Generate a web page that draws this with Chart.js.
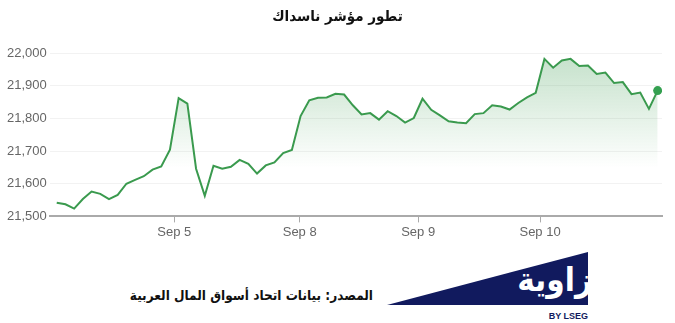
<!DOCTYPE html>
<html>
<head>
<meta charset="utf-8">
<script src="https://cdn.jsdelivr.net/npm/chart.js@4/dist/chart.umd.min.js"></script>
<style>
  body { margin: 0; background: #fff; }
  #wrap { position: relative; width: 675px; height: 323px; overflow: hidden; }
  #title { position: absolute; left: 0; top: 7px; width: 675px; text-align: center;
    font: bold 15px 'DejaVu Sans Condensed', 'DejaVu Sans', sans-serif; color: #111; direction: rtl; }
  #chartBox { position: absolute; left: 0; top: 0; width: 675px; height: 245px; }
  #source { position: absolute; left: 100px; top: 287px; width: 273px; text-align: right;
    font: bold 13.5px 'DejaVu Sans Condensed', 'DejaVu Sans', sans-serif; color: #111; direction: rtl; white-space: nowrap; }
  #tri { position: absolute; left: 387px; top: 252px; width: 201px; height: 53px; background: #111a5e;
    clip-path: polygon(0 100%, 100% 0, 100% 100%); }
  #logoTxt { position: absolute; left: 500px; top: 260px; width: 88px; height: 45px; overflow: hidden; }
  #logoTxt span { position: absolute; right: -4px; top: 0; font: bold 33px 'DejaVu Sans Condensed', 'DejaVu Sans', sans-serif;
    color: #fff; direction: rtl; white-space: nowrap; }
  #lseg { position: absolute; left: 530px; top: 311px; width: 58px; text-align: right;
    font: bold 9px 'Liberation Sans', Arial, sans-serif; color: #111a5e; }
</style>
</head>
<body>
<div id="wrap">
  <div id="chartBox"><canvas id="c"></canvas></div>
  <div id="title">تطور مؤشر ناسداك</div>
  <div id="source">المصدر: بيانات اتحاد أسواق المال العربية</div>
  <div id="tri"></div>
  <div id="logoTxt"><span>زاوية</span></div>
  <div id="lseg">BY LSEG</div>
</div>
<script>
// Nasdaq index, 14 readings per trading day (Sep 4 - Sep 10)
const values = [
  21542, 21537, 21524, 21553, 21576, 21569, 21553, 21566, 21600, 21612, 21623, 21643, 21653, 21704,
  21862, 21845, 21646, 21563, 21655, 21646, 21652, 21673, 21661, 21631, 21656, 21665, 21694, 21703,
  21807, 21855, 21863, 21864, 21875, 21873, 21840, 21812, 21816, 21796, 21822, 21807, 21787, 21801,
  21860, 21826, 21809, 21791, 21787, 21785, 21813, 21816, 21840, 21836, 21827, 21847, 21864, 21878,
  21982, 21955, 21977, 21982, 21960, 21962, 21936, 21940, 21908, 21911, 21874, 21879, 21829, 21885
];
const dayLabels = ['Sep 5', 'Sep 8', 'Sep 9', 'Sep 10'];
const dayStarts = [13.5, 27.9, 41.5, 55.5];
const yTicks = [21500, 21600, 21700, 21800, 21900, 22000];

const points = values.map((v, i) => ({ x: i, y: v }));

const green = '#3a9a4e';

new Chart(document.getElementById('c'), {
  type: 'line',
  data: {
    datasets: [{
      data: points,
      borderColor: green,
      borderWidth: 2,
      tension: 0,
      fill: 'start',
      backgroundColor: (ctx) => {
        const area = ctx.chart.chartArea;
        if (!area) return 'rgba(58,154,78,0.2)';
        const g = ctx.chart.ctx.createLinearGradient(0, area.top, 0, area.top + 115);
        g.addColorStop(0, 'rgba(58,154,78,0.30)');
        g.addColorStop(1, 'rgba(58,154,78,0)');
        return g;
      },
      pointRadius: (ctx) => ctx.dataIndex === values.length - 1 ? 4.5 : 0,
      pointBackgroundColor: '#34a050',
      pointBorderWidth: 0,
      pointHoverRadius: 0
    }]
  },
  options: {
    responsive: true,
    maintainAspectRatio: false,
    animation: false,
    layout: { padding: { left: 4, right: 13, top: 53, bottom: 3 } },
    plugins: {
      legend: { display: false },
      tooltip: { enabled: false }
    },
    scales: {
      x: {
        type: 'linear',
        min: -0.8,
        max: 69.5,
        afterBuildTicks: (scale) => { scale.ticks = dayStarts.map(v => ({ value: v })); },
        ticks: {
          autoSkip: false,
          maxRotation: 0,
          padding: 2,
          color: '#666',
          font: { family: "'Liberation Sans', Arial, sans-serif", size: 13 },
          callback: (value, index) => dayLabels[index]
        },
        grid: { drawOnChartArea: false, drawTicks: true, tickLength: 6, color: '#aaa' },
        border: { color: '#aaa', width: 2 }
      },
      y: {
        min: 21500,
        max: 22000,
        afterBuildTicks: (scale) => { scale.ticks = yTicks.map(v => ({ value: v })); },
        ticks: {
          padding: 3,
          color: '#666',
          font: { family: "'Liberation Sans', Arial, sans-serif", size: 13 },
          callback: (value) => value.toLocaleString('en-US')
        },
        grid: { drawTicks: false, color: '#f2f2f2' },
        border: { display: false }
      }
    }
  }
});
</script>
</body>
</html>
